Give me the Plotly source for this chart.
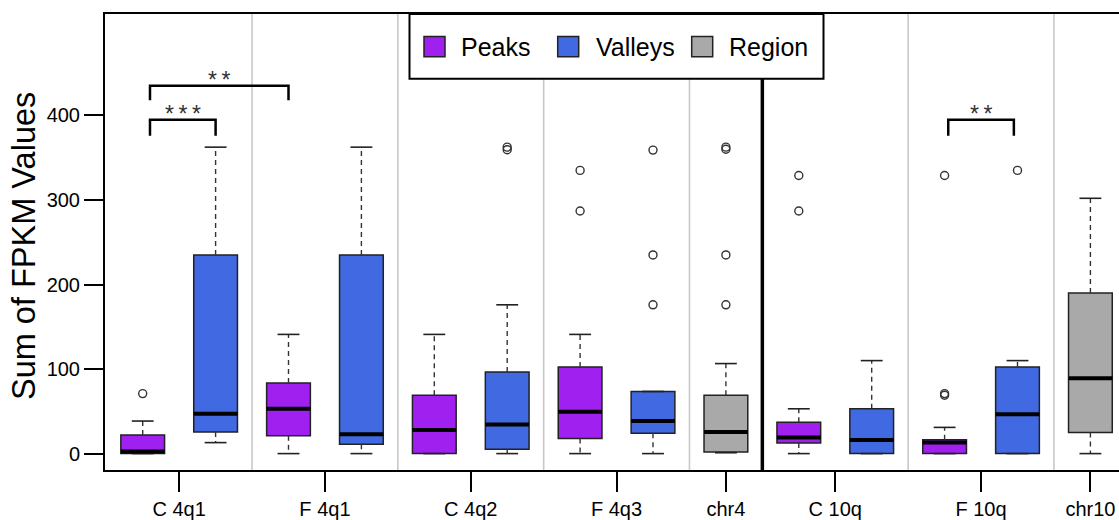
import plotly.graph_objects as go

# ---- data -------------------------------------------------------------
group_labels = ["C 4q1", "F 4q1", "C 4q2", "F 4q3", "chr4", "C 10q", "F 10q", "chr10"]
group_label_pos = [1.5, 3.5, 5.5, 7.5, 9, 10.5, 12.5, 14]

box_pos = list(range(1, 15))
box_series = ["Peaks", "Valleys", "Peaks", "Valleys", "Peaks", "Valleys", "Peaks", "Valleys",
              "Region", "Peaks", "Valleys", "Peaks", "Valleys", "Region"]
whisker_low = [0, 13, 0, 0, 0, 0, 0, 0, 1, 0, 0, 0, 0, 0]
q1 = [0, 25.5, 21, 11, 0, 5, 18, 24, 2, 12.5, 0, 0, 0, 25]
median = [2.5, 47, 53, 23, 28, 34.5, 49.5, 38.5, 25.5, 19, 16, 13, 46.5, 89]
q3 = [22, 235, 83.5, 235, 69, 96.5, 102.5, 73.5, 69, 37, 53, 16.5, 102.5, 190]
whisker_high = [38.5, 362.5, 141, 362.5, 141, 176, 141, 73.5, 106.5, 53, 110, 31, 110, 302]
outliers = [[71], [], [], [], [], [359.5, 362.5], [287, 335], [176, 235, 359],
            [176, 235, 360, 362.5], [287, 329], [], [69, 71, 329], [335], []]

# significance brackets: (left x, right x, bar height, label)
signif = [(1.1, 2.0, 395, "***"), (1.1, 3.0, 435, "**"), (12.05, 12.95, 395, "**")]

series_colors = {"Peaks": "#a020f0", "Valleys": "#4169e1", "Region": "#a9a9a9"}
legend_order = ["Peaks", "Valleys", "Region"]

group_separators = [2.5, 4.5, 6.5, 8.5, 11.5, 13.5]
chrom_separator = 9.5

# ---- geometry ---------------------------------------------------------
W, H = 1119, 520
PLOT_L, PLOT_R, PLOT_T, PLOT_B = 105, 1119, 14, 472
BOX_W = 0.6
CAP_W = 0.3
FONT = "Liberation Sans, Arial, Helvetica, sans-serif"
EDGE = "#222222"


def px_x(p):
    return (p - PLOT_L) / (PLOT_R - PLOT_L)


def px_y(p):
    return (PLOT_B - p) / (PLOT_B - PLOT_T)


fig = go.Figure()

# whiskers (dashed)
wx, wy = [], []
for p, lo, a, b, hi in zip(box_pos, whisker_low, q1, q3, whisker_high):
    wx += [p, p, None, p, p, None]
    wy += [b, hi, None, a, lo, None]
fig.add_trace(go.Scatter(x=wx, y=wy, mode="lines", hoverinfo="skip", showlegend=False,
                         line=dict(color="#333333", width=1.4, dash="5px,4px")))

# whisker caps
cx, cy = [], []
for p, lo, hi in zip(box_pos, whisker_low, whisker_high):
    cx += [p - CAP_W / 2, p + CAP_W / 2, None, p - CAP_W / 2, p + CAP_W / 2, None]
    cy += [hi, hi, None, lo, lo, None]
fig.add_trace(go.Scatter(x=cx, y=cy, mode="lines", hoverinfo="skip", showlegend=False,
                         line=dict(color=EDGE, width=1.6)))

# box bodies
for p, s, a, m, b in zip(box_pos, box_series, q1, median, q3):
    fig.add_trace(go.Box(x=[p], q1=[a], median=[m], q3=[b], lowerfence=[a], upperfence=[b],
                         width=BOX_W, fillcolor=series_colors[s], boxpoints=False,
                         line=dict(color=EDGE, width=1.5), name=s, showlegend=False,
                         hoverinfo="skip"))

# thick median bars
mx, my = [], []
for p, m in zip(box_pos, median):
    mx += [p - BOX_W / 2, p + BOX_W / 2, None]
    my += [m, m, None]
fig.add_trace(go.Scatter(x=mx, y=my, mode="lines", hoverinfo="skip", showlegend=False,
                         line=dict(color="black", width=4)))

# outliers
ox, oy = [], []
for p, pts in zip(box_pos, outliers):
    for v in pts:
        ox.append(p)
        oy.append(v)
fig.add_trace(go.Scatter(x=ox, y=oy, mode="markers", hoverinfo="skip", showlegend=False,
                         marker=dict(symbol="circle-open", size=8, color="#333333",
                                     line=dict(width=1.4))))

# significance brackets
bx, by = [], []
drop = {395: 19, 435: 17}
for x0, x1, yb, lab in signif:
    d = drop.get(yb, 18)
    bx += [x0, x0, x1, x1, None]
    by += [yb - d, yb, yb, yb - d, None]
fig.add_trace(go.Scatter(x=bx, y=by, mode="lines", hoverinfo="skip", showlegend=False,
                         line=dict(color="black", width=2.5)))

annotations = []
for x0, x1, yb, lab in signif:
    annotations.append(dict(x=(x0 + x1) / 2, y=yb, xref="x", yref="y", showarrow=False,
                            text="\u2009".join(lab), yanchor="bottom", xanchor="center",
                            yshift=-9,
                            font=dict(family=FONT, size=23, color="#333333")))

# axis title
annotations.append(dict(x=px_x(24), y=px_y(247), xref="paper", yref="paper",
                        text="Sum of FPKM Values", textangle=-90, showarrow=False,
                        xanchor="center", yanchor="middle",
                        font=dict(family=FONT, size=32.5, color="black")))

shapes = []
for xs in group_separators:
    shapes.append(dict(type="line", xref="x", yref="paper", x0=xs, x1=xs, y0=0, y1=1,
                       line=dict(color="#c8c8c8", width=1.6), layer="below"))
shapes.append(dict(type="line", xref="x", yref="paper", x0=chrom_separator, x1=chrom_separator,
                   y0=0, y1=1, line=dict(color="black", width=3.5), layer="above"))

# legend box
shapes.append(dict(type="rect", xref="paper", yref="paper", x0=px_x(409.5), x1=px_x(823.5),
                   y0=px_y(79), y1=px_y(14), fillcolor="white",
                   line=dict(color="black", width=2), layer="above"))
legend_sq_left = [424, 557.7, 691.7]
legend_txt_left = [459, 593.5, 727]
for s, sx, tx in zip(legend_order, legend_sq_left, legend_txt_left):
    shapes.append(dict(type="rect", xref="paper", yref="paper", x0=px_x(sx), x1=px_x(sx + 21),
                       y0=px_y(57), y1=px_y(36.5), fillcolor=series_colors[s],
                       line=dict(color=EDGE, width=1.5), layer="above"))
    annotations.append(dict(x=px_x(tx), y=px_y(47), xref="paper", yref="paper", text=s,
                            showarrow=False, xanchor="left", yanchor="middle",
                            font=dict(family=FONT, size=25, color="black")))


def pos_of_px(p):
    return 1 + (p - 142.7) / 72.9


fig.update_layout(
    width=W, height=H,
    margin=dict(l=PLOT_L, r=W - PLOT_R, t=PLOT_T, b=H - PLOT_B, pad=0),
    paper_bgcolor="white", plot_bgcolor="white",
    boxmode="overlay",
    showlegend=False,
    font=dict(family=FONT, color="black"),
    xaxis=dict(range=[pos_of_px(PLOT_L), pos_of_px(PLOT_R)], tickmode="array",
               tickvals=group_label_pos, ticktext=group_labels, ticks="outside",
               ticklen=20, tickwidth=2, tickcolor="black", showline=True, linecolor="black",
               linewidth=2, mirror=True, showgrid=False, zeroline=False,
               tickfont=dict(family=FONT, size=20, color="black")),
    yaxis=dict(range=[-19.4, 520], tickmode="array", tickvals=[0, 100, 200, 300, 400],
               ticks="outside", ticklen=19, tickwidth=2, tickcolor="black", showline=True,
               linecolor="black", linewidth=2, mirror=False, showgrid=False, zeroline=False,
               tickfont=dict(family=FONT, size=20, color="black")),
    shapes=shapes,
    annotations=annotations,
)

fig.write_html("out.html")
